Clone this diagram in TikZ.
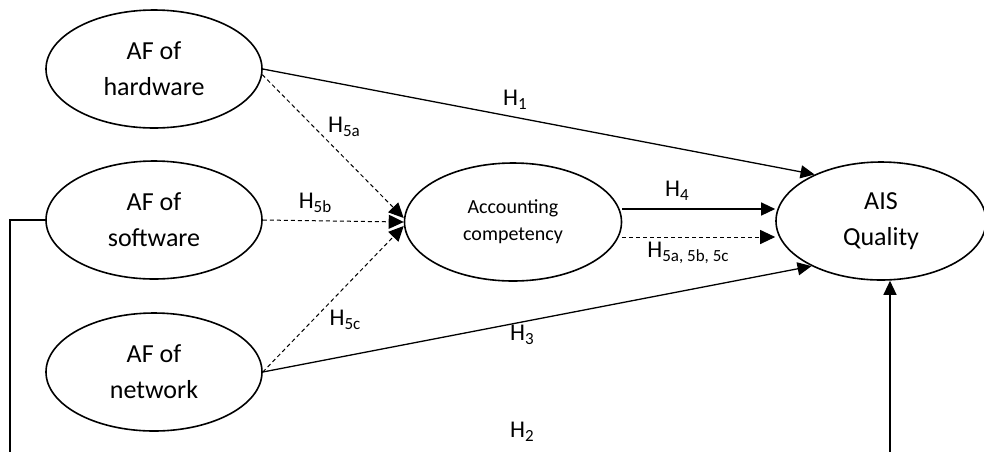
\documentclass[tikz,border=0pt]{standalone}
\usepackage{fontspec}
\setmainfont{Carlito}
\usetikzlibrary{shapes.geometric,arrows.meta}
\newcommand\hsub[1]{H\raisebox{-4pt}{\fontsize{17}{17}\selectfont #1}}
\begin{document}
\begin{tikzpicture}[x=1pt,y=-1pt,
  ell/.style={draw, line width=1.6pt, ellipse, minimum width=216pt, minimum height=118pt,
    inner sep=0pt, align=center, font=\fontsize{26}{36}\selectfont},
  lab/.style={inner sep=0pt, font=\fontsize{24}{24}\selectfont},
  sol/.style={line width=1.3pt, -{Triangle[length=14pt,width=13pt]}},
  dsh/.style={line width=1pt, dash pattern=on 4pt off 3pt, -{Triangle[length=15pt,width=14pt]}},
  plain/.style={line width=1.3pt}]
\useasboundingbox (0,0) rectangle (984,451);
\clip (0,0) rectangle (984,451);
\node[ell] (hw) at (154,69) {AF of\\hardware};
\node[ell] (sw) at (154,220) {AF of\\software};
\node[ell] (nw) at (154,372) {AF of\\network};
\node[ell, minimum width=217pt, font=\fontsize{20}{27}\selectfont] (acc) at (513,222) {Accounting\\competency};
\node[ell, minimum width=210pt] (ais) at (881,221) {AIS\\Quality};
% H1
\draw[sol] (hw.east) -- (ais.145);
% H3
\draw[sol] (nw.east) -- (ais.213);
% H4
\draw[sol] ([yshift=13pt]acc.east) -- ([yshift=13pt]acc.east -| ais.west);
% H5a,5b,5c
\draw[dsh] ([yshift=-15pt]acc.east) -- ([yshift=-15pt]acc.east -| ais.west);
% H5a, H5b, H5c
\draw[dsh] (hw.-3) -- ([yshift=4pt]acc.west);
\draw[dsh] (sw.east) -- (acc.west);
\draw[dsh] (nw.east) -- ([yshift=-4pt]acc.west);
% H2
\coordinate (c1) at (10,220);
\coordinate (c2) at (10,470);
\coordinate (c3) at (890,470);
\draw[plain] (sw.west) -- (c1) -- (c2) -- (c3);
\draw[sol] (c3) -- (c3 |- ais.south);
% labels
\node[lab] (l1) at (515,100) {\hsub{1}};
\node[lab] (l5a) at (344,127) {\hsub{5a}};
\node[lab] (l5b) at (315,203) {\hsub{5b}};
\node[lab] (l5c) at (345,320) {\hsub{5c}};
\node[lab] (l4) at (677,191) {\hsub{4}};
\node[lab] (l5all) at (688,253) {\hsub{5a, 5b, 5c}};
\node[lab] (l3) at (522,335) {\hsub{3}};
\node[lab] (l2) at (522,432) {\hsub{2}};
\end{tikzpicture}
\end{document}
